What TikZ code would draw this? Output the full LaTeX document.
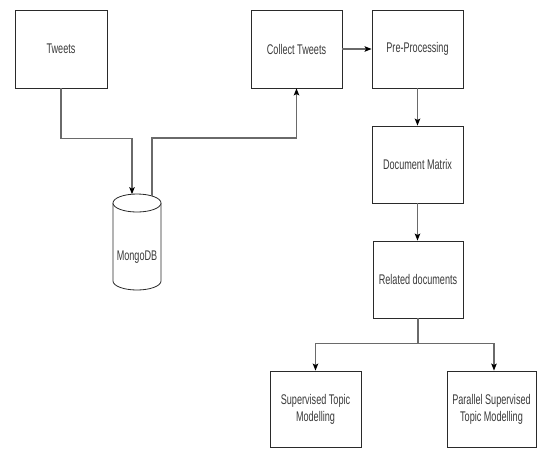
\documentclass[tikz,border=0pt]{standalone}
\usepackage{fontspec}
\setmainfont{Liberation Sans}[FakeStretch=0.65]
\usetikzlibrary{arrows.meta}
\definecolor{txt}{HTML}{3A3A3A}
\definecolor{edge}{HTML}{2A2A2A}
\definecolor{conn}{HTML}{6A6A6A}
\begin{document}
\begin{tikzpicture}[x=1pt,y=1pt,
  box/.style={draw=edge, line width=0.9pt, fill=white, inner sep=2pt, align=center,
    text=txt, font=\fontsize{14}{17}\selectfont},
  link/.style={draw=conn, line width=1.1pt},
  arr/.style={link, -{Stealth[length=7pt,width=5.5pt,inset=1.5pt,color=black]}}]
\useasboundingbox (0,0) rectangle (537,-448);
\fill[white] (0,0) rectangle (537,-448);

\node[box, minimum width=92pt, minimum height=78pt] (tweets) at (61,-49) {Tweets};
\node[box, minimum width=91pt, minimum height=78pt] (collect) at (296.5,-49) {Collect Tweets};
\node[box, minimum width=91pt, minimum height=78pt] (pre) at (417.5,-49) {Pre-Processing};
\node[box, minimum width=91pt, minimum height=77pt] (doc) at (417.5,-164.5) {Document Matrix};
\node[box, minimum width=90pt, minimum height=77pt] (rel) at (418,-279.5) {Related documents};
\node[box, minimum width=91pt, minimum height=76pt] (sup) at (315.5,-409) {Supervised Topic\\Modelling};
\node[box, minimum width=89pt, minimum height=76pt] (par) at (491.5,-409) {Parallel Supervised\\Topic Modelling};

% MongoDB cylinder
\draw[draw=edge, line width=0.8pt, fill=white] (113,-203) -- (113,-281)
  arc[start angle=180, end angle=360, x radius=24, y radius=9] -- (161,-203);
\draw[draw=edge, line width=0.8pt, fill=white] (137,-203) ellipse[x radius=24, y radius=9];
\node[text=txt, font=\fontsize{14}{17}\selectfont, inner sep=0pt] (mongo) at (137,-257) {MongoDB};
\coordinate (mtopL) at (132,-194.2);
\coordinate (mtopR) at (152,-196);

% connectors
\draw[arr] (tweets.south) -- ++(0,-50) -| (mtopL);
\draw[arr] (mtopR) -- ++(0,58) -| (collect.south);
\draw[arr] (collect.east) -- (pre.west);
\draw[arr] (pre.south) -- (doc.north);
\draw[arr] (doc.south) -- (doc.south |- rel.north);
\draw[arr] (rel.south) -- ++(0,-25) -| (sup.north);
\draw[arr] (rel.south) -- ++(0,-25) -| ([xshift=2.5pt]par.north);
\end{tikzpicture}
\end{document}
